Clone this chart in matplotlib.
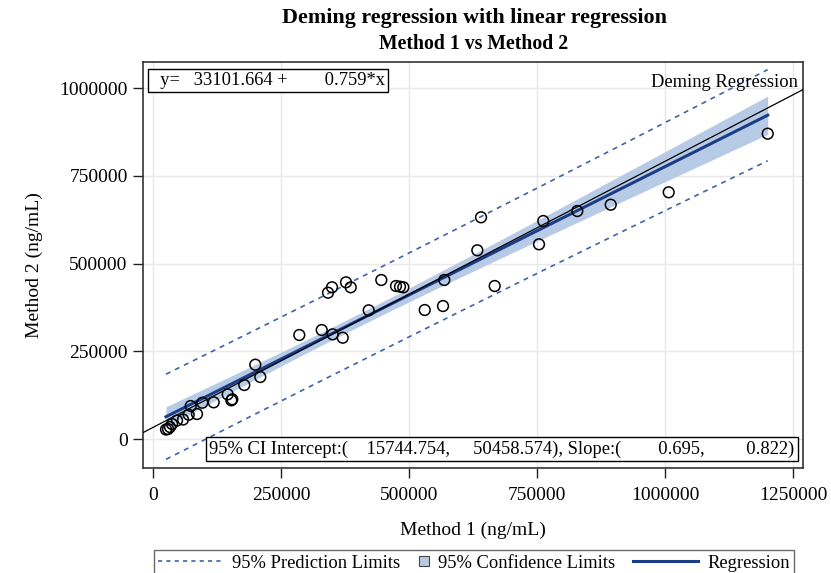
import numpy as np
import matplotlib
matplotlib.use("Agg")
import matplotlib.pyplot as plt
from matplotlib.lines import Line2D
from matplotlib.patches import Rectangle

plt.rcParams['font.family'] = ['Liberation Serif', 'DejaVu Serif']

# ---- data ----
method1 = [25400, 29300, 33200, 37100, 46900, 58600, 69700, 85900, 73600, 96300,
           118500, 145800, 152900, 154800, 178200, 199700, 209500,
           285600, 329400, 350800, 370400, 341700, 349500, 376800, 386000, 445700,
           421100, 474400, 482200, 488700, 568700, 530500, 566200,
           640400, 633200, 753600, 762000, 667100, 828400, 893600, 1006800, 1200100]
method2 = [27100, 28500, 34200, 42800, 52800, 55600, 69300, 71300, 94100, 103500,
           104600, 127500, 110300, 113200, 154000, 211900, 176800,
           296600, 310800, 298500, 288900, 417200, 432600, 446800, 432600, 453400,
           367000, 436300, 434300, 432600, 453400, 367800, 379200,
           632200, 538100, 555200, 621600, 436300, 650100, 668100, 703500, 870600]

deming_intercept = 33101.664
deming_slope = 0.759
ci_intercept = (15744.754, 50458.574)
ci_slope = (0.695, 0.822)
t_crit = 2.021

x_ticks = [0, 250000, 500000, 750000, 1000000, 1250000]
y_ticks = [0, 250000, 500000, 750000, 1000000]

x = np.array(method1, float)
y = np.array(method2, float)
n = len(x)
b1, b0 = np.polyfit(x, y, 1)
resid = y - (b0 + b1 * x)
s = np.sqrt(np.sum(resid**2) / (n - 2))
xbar = x.mean()
sxx = np.sum((x - xbar)**2)
xs = np.linspace(x.min(), x.max(), 200)
yfit = b0 + b1 * xs
se_mean = s * np.sqrt(1.0 / n + (xs - xbar)**2 / sxx)
se_pred = s * np.sqrt(1.0 + 1.0 / n + (xs - xbar)**2 / sxx)

band_col = '#b7cbe6'
navy = '#1b3c87'
dash_col = '#3f64a6'

fig = plt.figure(figsize=(8.31, 5.73), dpi=100)
ax = fig.add_axes([0.1721, 0.1832, 0.7942, 0.7086])

ax.fill_between(xs, yfit - t_crit * se_mean, yfit + t_crit * se_mean,
                color=band_col, lw=0, zorder=2)
ax.plot(xs, yfit + t_crit * se_pred, ls=(0, (3, 3)), color=dash_col, lw=1.2, zorder=3)
ax.plot(xs, yfit - t_crit * se_pred, ls=(0, (3, 3)), color=dash_col, lw=1.2, zorder=3)
ax.plot(xs, yfit, color=navy, lw=2.2, zorder=4)

xl = (-19500, 1269000)
yl = (-82700, 1075000)
xx = np.array(xl)
ax.plot(xx, deming_intercept + deming_slope * xx, color='black', lw=0.9, zorder=5)

ax.scatter(x, y, s=60, facecolors='none', edgecolors='black', linewidths=1.1, zorder=6)

ax.set_xlim(*xl)
ax.set_ylim(*yl)
ax.set_xticks(x_ticks)
ax.set_yticks(y_ticks)
ax.set_xticklabels([str(v) for v in x_ticks])
ax.set_yticklabels([str(v) for v in y_ticks])
ax.tick_params(labelsize=14, length=7, width=1.0, color='#222222', pad=4)
ax.tick_params(axis='x', pad=7)
ax.grid(True, color='#e8e8e8', lw=1.0, zorder=0)
ax.set_axisbelow(True)
for sp in ax.spines.values():
    sp.set_color('#333333')
    sp.set_linewidth(1.2)

ax.set_xlabel('Method 1 (ng/mL)', fontsize=14, labelpad=12.5)
ax.set_ylabel('Method 2 (ng/mL)', fontsize=14, labelpad=12)

fig.text(0.5704, 0.968, 'Deming regression with linear regression', ha='center', va='center',
         fontsize=15.8, fontweight='bold')
fig.text(0.5704, 0.923, 'Method 1 vs Method 2', ha='center', va='center',
         fontsize=14.2, fontweight='bold')

ax.text(0.012, 0.975, '  y=   %.3f +        %.3f*x' % (deming_intercept, deming_slope),
        transform=ax.transAxes, ha='left', va='top', fontsize=13.3,
        bbox=dict(boxstyle='square,pad=0.17', fc='white', ec='black', lw=1.0), zorder=10)
ax.text(0.992, 0.970, 'Deming Regression', transform=ax.transAxes, ha='right', va='top',
        fontsize=13.3, zorder=10)
ax.text(0.987, 0.025,
        '95%% CI Intercept:(    %.3f,     %.3f), Slope:(        %.3f,         %.3f)'
        % (ci_intercept[0], ci_intercept[1], ci_slope[0], ci_slope[1]),
        transform=ax.transAxes, ha='right', va='bottom', fontsize=13.3,
        bbox=dict(boxstyle='square,pad=0.17', fc='white', ec='black', lw=1.0), zorder=10)


class SquareHandler:
    def legend_artist(self, legend, orig_handle, fontsize, handlebox):
        side = 7.2
        handlebox.width = side
        h = handlebox.height
        rect = Rectangle((0, (h - side) / 2.0), side, side, facecolor=band_col,
                         edgecolor='#444444', lw=0.8, transform=handlebox.get_transform())
        handlebox.add_artist(rect)
        return rect


class SquareKey:
    pass


sq = SquareKey()
handles = [Line2D([], [], ls=(0, (2.5, 2.5)), color=dash_col, lw=1.2),
           sq,
           Line2D([], [], color=navy, lw=2.2)]
labels = ['95% Prediction Limits', '95% Confidence Limits', 'Regression']
leg = fig.legend(handles, labels, loc='upper center', bbox_to_anchor=(0.5704, 0.0401),
                 borderaxespad=0, ncol=3, frameon=True, fancybox=False, edgecolor='#444444',
                 fontsize=13.3, handlelength=3.5, columnspacing=1.0, handletextpad=0.5,
                 borderpad=0.25, handler_map={SquareKey: SquareHandler()})
leg.get_frame().set_linewidth(1.0)

fig.savefig('out.png', dpi=100)
